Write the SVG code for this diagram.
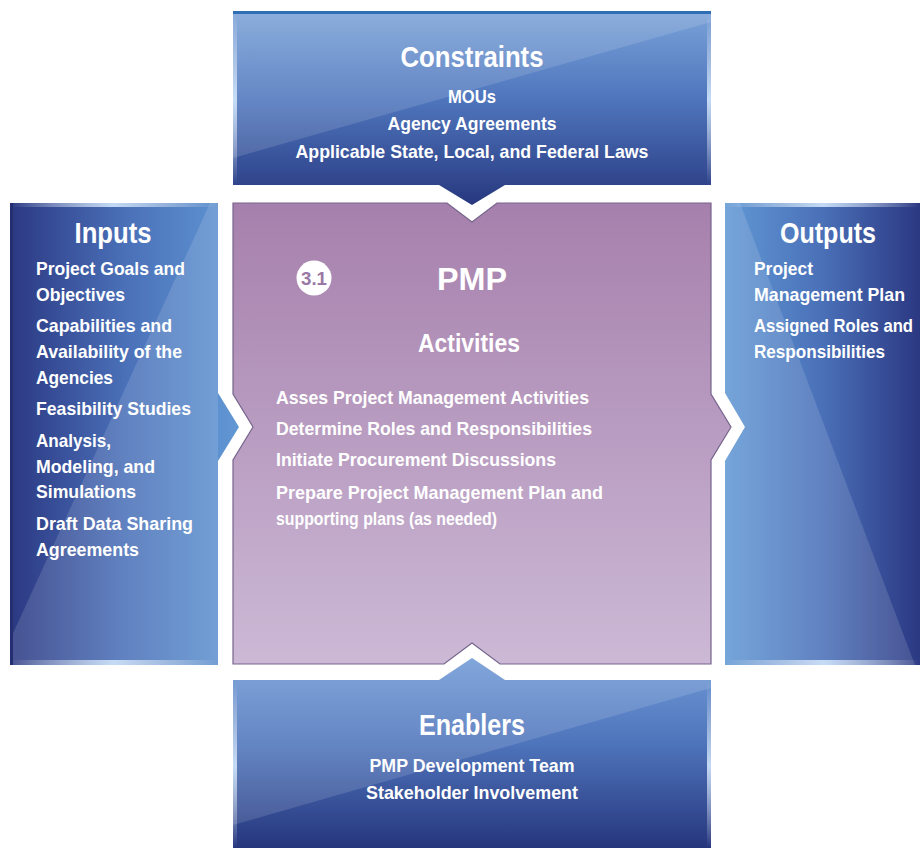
<svg xmlns="http://www.w3.org/2000/svg" width="920" height="848" viewBox="0 0 920 848">
<defs>
<style>
.t{font-family:"Liberation Sans",Arial,sans-serif;font-weight:bold;fill:#ffffff}
.ttl{font-size:30px}
.b{font-size:18.5px}
.c{text-anchor:middle}
.gloss{fill:#ffffff;opacity:0.13}
</style>
<linearGradient id="gV" x1="0" y1="0" x2="0" y2="1">
<stop offset="0" stop-color="#7aa2d8"/>
<stop offset="0.45" stop-color="#4f76bd"/>
<stop offset="1" stop-color="#27387f"/>
</linearGradient>
<linearGradient id="gVe" x1="0" y1="0" x2="0" y2="1">
<stop offset="0" stop-color="#6f9ad6"/>
<stop offset="0.45" stop-color="#4e74bb"/>
<stop offset="1" stop-color="#26367d"/>
</linearGradient>
<linearGradient id="gL" x1="0" y1="0" x2="1" y2="0">
<stop offset="0" stop-color="#2b3882"/>
<stop offset="0.5" stop-color="#4a70b8"/>
<stop offset="1" stop-color="#6198d4"/>
</linearGradient>
<linearGradient id="gR" x1="0" y1="0" x2="1" y2="0">
<stop offset="0" stop-color="#6198d4"/>
<stop offset="0.5" stop-color="#4a70b8"/>
<stop offset="1" stop-color="#2b3882"/>
</linearGradient>
<linearGradient id="gP" x1="0" y1="0" x2="0" y2="1">
<stop offset="0" stop-color="#a680ac"/>
<stop offset="1" stop-color="#ccb9d6"/>
</linearGradient>
<linearGradient id="edgeV" x1="0" y1="0" x2="0" y2="1">
<stop offset="0" stop-color="#ffffff" stop-opacity="0"/>
<stop offset="0.5" stop-color="#d8ecff" stop-opacity="0.85"/>
<stop offset="1" stop-color="#ffffff" stop-opacity="0"/>
</linearGradient>
<linearGradient id="edgeH" x1="0" y1="0" x2="1" y2="0">
<stop offset="0" stop-color="#ffffff" stop-opacity="0"/>
<stop offset="0.5" stop-color="#d8ecff" stop-opacity="0.85"/>
<stop offset="1" stop-color="#ffffff" stop-opacity="0"/>
</linearGradient>
<clipPath id="cC"><path d="M233,11 H711 V185 H505 L472,205 L439,185 H233 Z"/></clipPath>
<clipPath id="cE"><path d="M233,680 H439 L472,658 L505,680 H711 V848 H233 Z"/></clipPath>
<clipPath id="cI"><path d="M10,203 H218 V393 L239,427 L218,461 V665 H10 Z"/></clipPath>
<clipPath id="cO"><path d="M725,203 H920 V665 H725 V461 L745,427 L725,393 Z"/></clipPath>
</defs>
<rect width="920" height="848" fill="#ffffff"/>

<g id="constraints">
<path d="M233,11 H711 V185 H505 L472,205 L439,185 H233 Z" fill="url(#gV)"/>
<g clip-path="url(#cC)">
<polygon class="gloss" points="233,11 711,11 711,22 233,158"/>
<rect x="233" y="11" width="478" height="3" fill="#2f6db5"/>
<rect x="233" y="14" width="4" height="170" fill="url(#edgeV)"/>
<rect x="707" y="14" width="4" height="170" fill="url(#edgeV)"/>
</g>
<text class="t ttl c" x="472" y="67" textLength="143" lengthAdjust="spacingAndGlyphs">Constraints</text>
<text class="t b c" x="472" y="103" textLength="48" lengthAdjust="spacingAndGlyphs">MOUs</text>
<text class="t b c" x="472" y="130" textLength="169" lengthAdjust="spacingAndGlyphs">Agency Agreements</text>
<text class="t b c" x="472" y="158" textLength="353" lengthAdjust="spacingAndGlyphs">Applicable State, Local, and Federal Laws</text>
</g>

<g id="inputs">
<path d="M10,203 H218 V393 L239,427 L218,461 V665 H10 Z" fill="url(#gL)"/>
<g clip-path="url(#cI)">
<polygon class="gloss" points="218,203 218,665 10,665 10,640 210,203"/>
<rect x="10" y="203" width="208" height="4" fill="url(#edgeH)"/>
<rect x="10" y="660" width="208" height="5" fill="url(#edgeH)"/>
<rect x="10" y="203" width="3" height="462" fill="#242f72"/>
</g>
<text class="t ttl c" x="113" y="243" textLength="77" lengthAdjust="spacingAndGlyphs">Inputs</text>
<text class="t b" x="36" y="275" textLength="149" lengthAdjust="spacingAndGlyphs">Project Goals and</text>
<text class="t b" x="36" y="301" textLength="89" lengthAdjust="spacingAndGlyphs">Objectives</text>
<text class="t b" x="36" y="332" textLength="136" lengthAdjust="spacingAndGlyphs">Capabilities and</text>
<text class="t b" x="36" y="358" textLength="146" lengthAdjust="spacingAndGlyphs">Availability of the</text>
<text class="t b" x="36" y="384" textLength="77" lengthAdjust="spacingAndGlyphs">Agencies</text>
<text class="t b" x="36" y="415" textLength="155" lengthAdjust="spacingAndGlyphs">Feasibility Studies</text>
<text class="t b" x="36" y="447" textLength="75" lengthAdjust="spacingAndGlyphs">Analysis,</text>
<text class="t b" x="36" y="473" textLength="119" lengthAdjust="spacingAndGlyphs">Modeling, and</text>
<text class="t b" x="36" y="498" textLength="100" lengthAdjust="spacingAndGlyphs">Simulations</text>
<text class="t b" x="36" y="530" textLength="157" lengthAdjust="spacingAndGlyphs">Draft Data Sharing</text>
<text class="t b" x="36" y="556" textLength="103" lengthAdjust="spacingAndGlyphs">Agreements</text>
</g>

<g id="pmp">
<path d="M233,203 H447 L472,222 L497,203 H711 V394 L731,427 L711,460 V664 H500 L472,643 L444,664 H233 V460 L253,427 L233,394 Z" fill="url(#gP)" stroke="#76648c" stroke-width="1.2"/>
<circle cx="314" cy="278" r="17.5" fill="#ffffff"/>
<text x="314" y="285" class="c" font-family="Liberation Sans, Arial, sans-serif" font-weight="bold" font-size="18" fill="#9a78a6" textLength="26" lengthAdjust="spacingAndGlyphs">3.1</text>
<text class="t c" x="472" y="290" font-size="32" textLength="70" lengthAdjust="spacingAndGlyphs">PMP</text>
<text class="t c" x="469" y="352" font-size="26" textLength="102" lengthAdjust="spacingAndGlyphs">Activities</text>
<text class="t" x="276" y="404" font-size="19" textLength="313" lengthAdjust="spacingAndGlyphs">Asses Project Management Activities</text>
<text class="t" x="276" y="435" font-size="19" textLength="316" lengthAdjust="spacingAndGlyphs">Determine Roles and Responsibilities</text>
<text class="t" x="276" y="466" font-size="19" textLength="280" lengthAdjust="spacingAndGlyphs">Initiate Procurement Discussions</text>
<text class="t" x="276" y="499" font-size="19" textLength="327" lengthAdjust="spacingAndGlyphs">Prepare Project Management Plan and</text>
<text class="t" x="276" y="525" font-size="19" textLength="221" lengthAdjust="spacingAndGlyphs">supporting plans (as needed)</text>
</g>

<g id="outputs">
<path d="M725,203 H920 V665 H725 V461 L745,427 L725,393 Z" fill="url(#gR)"/>
<g clip-path="url(#cO)">
<polygon class="gloss" points="725,203 740,203 915,665 725,665"/>
<rect x="725" y="203" width="195" height="4" fill="url(#edgeH)"/>
<rect x="725" y="660" width="195" height="5" fill="url(#edgeH)"/>
</g>
<text class="t ttl c" x="828" y="243" textLength="96" lengthAdjust="spacingAndGlyphs">Outputs</text>
<text class="t b" x="754" y="275" textLength="59" lengthAdjust="spacingAndGlyphs">Project</text>
<text class="t b" x="754" y="301" textLength="151" lengthAdjust="spacingAndGlyphs">Management Plan</text>
<text class="t b" x="754" y="332" textLength="159" lengthAdjust="spacingAndGlyphs">Assigned Roles and</text>
<text class="t b" x="754" y="358" textLength="131" lengthAdjust="spacingAndGlyphs">Responsibilities</text>
</g>

<g id="enablers">
<path d="M233,680 H439 L472,658 L505,680 H711 V848 H233 Z" fill="url(#gVe)"/>
<g clip-path="url(#cE)">
<polygon class="gloss" points="233,655 711,655 711,688 233,825"/>
<rect x="233" y="683" width="4" height="165" fill="url(#edgeV)"/>
<rect x="707" y="683" width="4" height="165" fill="url(#edgeV)"/>
</g>
<text class="t ttl c" x="472" y="735" textLength="106" lengthAdjust="spacingAndGlyphs">Enablers</text>
<text class="t b c" x="472" y="772" textLength="205" lengthAdjust="spacingAndGlyphs">PMP Development Team</text>
<text class="t b c" x="472" y="799" textLength="212" lengthAdjust="spacingAndGlyphs">Stakeholder Involvement</text>
</g>

<g id="connectors"></g>
</svg>
